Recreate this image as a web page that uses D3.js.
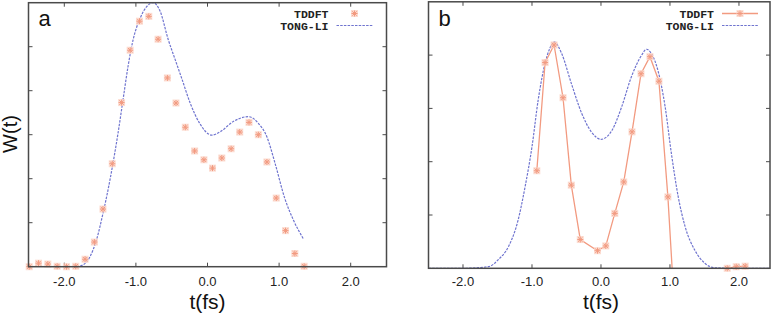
<!DOCTYPE html>
<html>
<head>
<meta charset="utf-8">
<script src="https://cdn.jsdelivr.net/npm/d3@7"></script>
<style>
  body { margin: 0; background: #fff; }
  svg { display: block; }
  text { font-family: "Liberation Sans", Arial, sans-serif; }
  .legend { font-family: "Liberation Mono", "Courier New", monospace; font-weight: bold; font-size: 11.5px; fill: #222; }
</style>
</head>
<body>
<div id="chart"></div>
<script>
// --- data ---
const xTicks = [-2.0, -1.0, 0.0, 1.0, 2.0];

// panel a
const aTddftT = [-2.49,-2.36,-2.23,-2.10,-1.97,-1.84,-1.71,-1.58,-1.46,-1.33,-1.20,-1.08,-0.95,-0.82,-0.69,-0.56,-0.44,-0.31,-0.18,-0.05,0.07,0.20,0.33,0.45,0.58,0.71,0.83,0.96,1.09,1.22,1.35];
const aTddftW = [0.0,0.08,0.06,0.01,0.0,0.01,0.17,0.56,1.31,2.34,3.73,4.92,5.58,5.69,5.17,4.29,3.72,3.17,2.63,2.43,2.24,2.47,2.68,3.06,3.28,3.0,2.38,1.56,0.82,0.30,0.01];
const aTongT = [-2.5,-1.97,-1.83,-1.73,-1.64,-1.55,-1.46,-1.39,-1.32,-1.25,-1.18,-1.11,-1.04,-0.94,-0.85,-0.76,-0.66,-0.55,-0.45,-0.36,-0.24,-0.11,0.06,0.18,0.36,0.57,0.71,0.83,0.94,1.08,1.20,1.34];
const aTongW = [0,0,0.0,0.05,0.23,0.61,1.21,1.74,2.35,3.03,3.79,4.55,5.15,5.65,5.91,6.0,5.80,5.17,4.70,4.28,3.71,3.26,2.99,3.07,3.30,3.41,3.26,2.95,2.37,1.55,1.06,0.63];

// panel b (null = gap, values below 0 are clipped by the frame)
const bTddftT = [-0.93,-0.81,-0.68,-0.55,-0.43,-0.30,-0.05,0.07,0.20,0.33,0.45,0.58,0.71,0.84,0.97,1.10,1.50,1.83,1.96,2.09];
const bTddftW = [1.83,3.86,4.19,3.20,1.56,0.54,0.33,0.42,1.03,1.62,2.56,3.65,3.97,3.51,1.34,-1.5,null,0.0,0.03,0.04];
const bTongT = [-2.5,-2.0,-1.63,-1.49,-1.34,-1.20,-1.10,-1.00,-0.91,-0.81,-0.74,-0.68,-0.57,-0.43,-0.28,-0.14,0.0,0.16,0.30,0.44,0.59,0.66,0.73,0.83,0.93,1.02,1.12,1.22,1.36,1.51,1.65,2.0,2.45];
const bTongW = [0,0,0.03,0.16,0.41,0.91,1.53,2.28,3.16,3.85,4.13,4.25,4.03,3.47,2.91,2.56,2.42,2.59,3.03,3.59,4.00,4.11,4.03,3.69,3.03,2.16,1.34,0.78,0.34,0.09,0.01,0,0];

const zip = (ts, ws) => ts.map((t, i) => ({ t, w: ws[i] }));

const TD_COLOR = "#f29a80", TD_HALO = "#fcd6c9", TL_COLOR = "#6f74cf", FRAME = "#4a4a4a";

const svg = d3.select("#chart").append("svg").attr("width", 775).attr("height", 316);

// gnuplot-ish star point
function star(g, x, y) {
  const s = g.append("g").attr("transform", `translate(${x},${y})`);
  s.append("rect").attr("x", -3.5).attr("y", -3.5).attr("width", 7).attr("height", 7)
    .attr("fill", TD_HALO).attr("opacity", 0.85);
  s.append("path").attr("d", "M-3,0H3M0,-3V3M-2.2,-2.2L2.2,2.2M-2.2,2.2L2.2,-2.2")
    .attr("stroke", TD_COLOR).attr("stroke-width", 1).attr("fill", "none");
}

function drawPanel({ id, xRange, xDomain, yRange, yDomain, yTicks, tddft, tong, tdLine, label, legendRight }) {
  const x = d3.scaleLinear().domain(xDomain).range(xRange);
  const y = d3.scaleLinear().domain(yDomain).range(yRange);
  const g = svg.append("g");
  const [x0, x1] = xRange, [y0, y1] = yRange; // y0 bottom, y1 top

  g.append("clipPath").attr("id", "clip-" + id)
    .append("rect").attr("x", x0).attr("y", y1).attr("width", x1 - x0).attr("height", y0 - y1);

  // ticks on all 4 sides, pointing inward
  const tk = 4;
  xTicks.forEach(v => {
    g.append("line").attr("x1", x(v)).attr("x2", x(v)).attr("y1", y0).attr("y2", y0 - tk).attr("stroke", FRAME);
    g.append("line").attr("x1", x(v)).attr("x2", x(v)).attr("y1", y1).attr("y2", y1 + tk).attr("stroke", FRAME);
    g.append("text").attr("x", x(v)).attr("y", 286).attr("text-anchor", "middle")
      .attr("font-size", 13).attr("fill", "#222").text(d3.format(".1f")(v).replace("−", "-"));
  });
  yTicks.forEach(v => {
    g.append("line").attr("x1", x0).attr("x2", x0 + tk).attr("y1", y(v)).attr("y2", y(v)).attr("stroke", FRAME);
    g.append("line").attr("x1", x1).attr("x2", x1 - tk).attr("y1", y(v)).attr("y2", y(v)).attr("stroke", FRAME);
  });

  const inside = g.append("g").attr("clip-path", `url(#clip-${id})`);
  const line = d3.line().defined(d => d.w !== null).x(d => x(d.t)).y(d => y(d.w));

  inside.append("path").datum(tong)
    .attr("d", line.curve(d3.curveMonotoneX))
    .attr("fill", "none").attr("stroke", TL_COLOR).attr("stroke-width", 1.2)
    .attr("stroke-dasharray", "2.5,1.2");

  if (tdLine) {
    inside.append("path").datum(tddft)
      .attr("d", d3.line().defined(d => d.w !== null).x(d => x(d.t)).y(d => y(d.w)))
      .attr("fill", "none").attr("stroke", TD_COLOR).attr("stroke-width", 1.3);
  }
  tddft.filter(d => d.w !== null && d.w >= yDomain[0] && d.t >= xDomain[0] && d.t <= xDomain[1])
    .forEach(d => star(g, x(d.t), y(d.w)));

  // frame
  g.append("rect").attr("x", x0).attr("y", y1).attr("width", x1 - x0).attr("height", y0 - y1)
    .attr("fill", "none").attr("stroke", FRAME).attr("stroke-width", 1.5);

  // legend
  const lx = x1 - legendRight;
  g.append("text").attr("class", "legend").attr("x", lx).attr("y", 17.5).attr("text-anchor", "end").text("TDDFT");
  g.append("text").attr("class", "legend").attr("x", lx).attr("y", 30).attr("text-anchor", "end").text("TONG-LI");
  if (tdLine) {
    g.append("line").attr("x1", lx + 8).attr("x2", lx + 44).attr("y1", 13.5).attr("y2", 13.5)
      .attr("stroke", TD_COLOR).attr("stroke-width", 1.3);
  }
  star(g, lx + 26, 13.5);
  g.append("line").attr("x1", lx + 8).attr("x2", lx + 44).attr("y1", 25.5).attr("y2", 25.5)
    .attr("stroke", TL_COLOR).attr("stroke-width", 1.2).attr("stroke-dasharray", "2.5,1.2");

  // panel letter and axis title
  g.append("text").attr("x", x0 + 10).attr("y", 26).attr("font-size", 22).attr("fill", "#111").text(label);
  g.append("text").attr("x", (x(0)) ).attr("y", 309).attr("text-anchor", "middle")
    .attr("font-size", 21).attr("fill", "#111").text("t(fs)");
}

drawPanel({
  id: "a", xDomain: [-2.5, 2.5], xRange: [28.5, 386.5],
  yDomain: [0, 6], yRange: [266.7, 2.7], yTicks: [1, 2, 3, 4, 5],
  tddft: zip(aTddftT, aTddftW), tong: zip(aTongT, aTongW), tdLine: false,
  label: "a", legendRight: 58
});
drawPanel({
  id: "b", xDomain: [-2.5, 2.45], xRange: [428.5, 770],
  yDomain: [0, 5], yRange: [268.3, 1.8], yTicks: [1, 2, 3, 4],
  tddft: zip(bTddftT, bTddftW), tong: zip(bTongT, bTongW), tdLine: true,
  label: "b", legendRight: 56
});

// y axis title
svg.append("text").attr("transform", "translate(17,134) rotate(-90)")
  .attr("text-anchor", "middle").attr("font-size", 20).attr("fill", "#111").text("W(t)");
</script>
</body>
</html>
